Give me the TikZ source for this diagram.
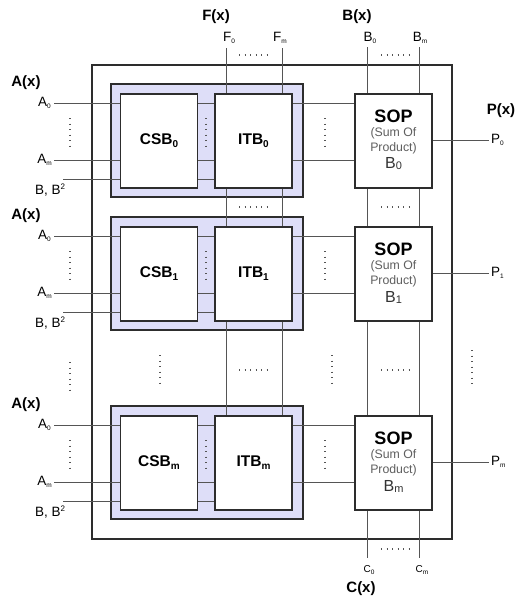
\documentclass[tikz,border=0pt]{standalone}
\usepackage{fontspec}
\setmainfont{Liberation Sans}
\usetikzlibrary{calc}
\definecolor{lav}{RGB}{222,222,248}
\definecolor{frm}{RGB}{45,45,45}
\definecolor{sigc}{RGB}{85,85,85}
\definecolor{gtext}{RGB}{95,95,95}
\pgfdeclarelayer{bgg}
\pgfdeclarelayer{bg}
\pgfsetlayers{bgg,bg,main}
\newcommand{\lsub}[1]{\raisebox{-1.5pt}{\fontsize{6.5}{6.5}\selectfont #1}}
\newcommand{\bsub}[1]{\raisebox{-3pt}{\fontsize{10}{10}\selectfont\bfseries #1}}
\newcommand{\lsup}[1]{\raisebox{5pt}{\fontsize{8}{8}\selectfont #1}}
\begin{document}
\begin{tikzpicture}[x=1pt,y=-1pt,
  blk/.style={draw=frm,line width=1.5pt,fill=white,minimum width=77pt,minimum height=94pt,inner sep=0pt,outer sep=0pt},
  grp/.style={draw=frm,line width=1.5pt,fill=lav,minimum width=192pt,minimum height=113pt,inner sep=0pt,outer sep=0pt},
  sigl/.style={draw=sigc,line width=0.9pt},
  dotline/.style={draw=sigc,line width=1.4pt,dash pattern=on 1.3pt off 4.2pt},
  lbl/.style={font=\fontsize{13.5}{15}\selectfont,inner sep=0pt},
  slbl/.style={font=\fontsize{10}{11}\selectfont,inner sep=0pt},
  bl/.style={font=\fontsize{15}{17}\selectfont\bfseries,inner sep=0pt},
  blkt/.style={font=\fontsize{15.5}{17}\selectfont\bfseries,inner sep=0pt},
]
\useasboundingbox (0,0) rectangle (519,597);

% top and bottom labels
\node[bl] (fx) at (216,17) {F(x)};
\node[bl] (bx) at (357,17) {B(x)};
\node[bl] (px) at (501,111) {P(x)};
\node[bl] (cx) at (361,589) {C(x)};
\node[lbl] (f0l) at (229,38) {F\lsub{0}};
\node[lbl] (fml) at (280,38) {F\lsub{m}};
\node[lbl] (b0l) at (370,38) {B\lsub{0}};
\node[lbl] (bml) at (420,38) {B\lsub{m}};
\node[slbl] (c0l) at (369,570) {C\lsub{0}};
\node[slbl] (cml) at (422,570) {C\lsub{m}};

\coordinate (ftop0) at (226,48);
\coordinate (ftopm) at (282,48);
\coordinate (btop0) at (367,47);
\coordinate (btopm) at (419,47);
\coordinate (bbot0) at (367,558);
\coordinate (bbotm) at (419,558);

\begin{pgfonlayer}{bgg}
  \node[draw=frm,line width=1.3pt,minimum width=360pt,minimum height=474pt,inner sep=0pt,outer sep=0pt] (frame) at (272,302) {};
\end{pgfonlayer}

\foreach \r/\t/\s in {0/94/0,1/227/1,2/416/m}{
  \begin{pgfonlayer}{bgg}
    \node[grp] (grp\r) at (207,{\t+46.5}) {};
  \end{pgfonlayer}
  \node[blk] (csb\r) at (159,{\t+47}) {};
  \node[blkt] at (csb\r) {CSB\bsub{\s}};
  \node[blk] (itb\r) at (253.5,{\t+47}) {};
  \node[blkt] at (itb\r) {ITB\bsub{\s}};
  \node[blk] (sop\r) at (393.5,{\t+47}) {};
  \node[font=\fontsize{18}{20}\selectfont\bfseries,inner sep=0pt] at ($(sop\r.north)+(0,22)$) {SOP};
  \node[font=\fontsize{12.3}{13}\selectfont,text=gtext,inner sep=0pt] at ($(sop\r.north)+(0,39)$) {(Sum Of};
  \node[font=\fontsize{12.3}{13}\selectfont,text=gtext,inner sep=0pt] at ($(sop\r.north)+(0,54)$) {Product)};
  \node[font=\fontsize{16}{18}\selectfont,text=black!80,inner sep=0pt] at ($(sop\r.north)+(0,70)$) {B\raisebox{-1pt}{\fontsize{11}{11}\selectfont \s}};
  % left labels
  \node[bl] (ax\r) at (26,{\t-11}) {A(x)};
  \node[lbl,anchor=east] (a0l\r) at (51,{\t+9}) {A\lsub{0}};
  \node[lbl,anchor=east] (aml\r) at (52,{\t+66}) {A\lsub{m}};
  \node[lbl] (bbl\r) at (50,{\t+96}) {B, B\lsup{2}};
  \coordinate (a0\r) at (54,{\t+9});
  \coordinate (am\r) at (54,{\t+66});
  \coordinate (bb\r) at (63,{\t+85});
  \coordinate (p\r) at (489,{\t+46});
  \node[lbl,anchor=west] (pl\r) at (491,{\t+46}) {P\lsub{\s}};
  \begin{pgfonlayer}{bg}
    \draw[sigl] (a0\r) -- (a0\r -| csb\r.west);
    \draw[sigl] (am\r) -- (am\r -| csb\r.west);
    \draw[sigl] (bb\r) -- (bb\r -| csb\r.west);
    \draw[sigl] (a0\r -| csb\r.east) -- (a0\r -| itb\r.west);
    \draw[sigl] (am\r -| csb\r.east) -- (am\r -| itb\r.west);
    \draw[sigl] (bb\r -| csb\r.east) -- (bb\r -| itb\r.west);
    \draw[sigl] (a0\r -| itb\r.east) -- (a0\r -| sop\r.west);
    \draw[sigl] (am\r -| itb\r.east) -- (am\r -| sop\r.west);
    \draw[sigl] (p\r -| sop\r.east) -- (p\r);
    \draw[dotline] (70,{\t+24}) -- (70,{\t+52});
    \draw[dotline] (206,{\t+24}) -- (206,{\t+52});
    \draw[dotline] (325,{\t+24}) -- (325,{\t+52});
  \end{pgfonlayer}
}

\begin{pgfonlayer}{bg}
  \draw[sigl] (ftop0) -- (ftop0 |- itb2.north);
  \draw[sigl] (ftopm) -- (ftopm |- itb2.north);
  \draw[sigl] (btop0) -- (bbot0);
  \draw[sigl] (btopm) -- (bbotm);
  % horizontal dot rows
  \foreach \yy in {55,207,370}{
    \draw[dotline] (239,\yy) -- (267,\yy);
    \draw[dotline] (381,\yy) -- (409,\yy);
  }
  \draw[dotline] (381,549) -- (409,549);
  % middle vertical dots
  \draw[dotline] (70,362) -- (70,390);
  \draw[dotline] (160,355) -- (160,383);
  \draw[dotline] (332,355) -- (332,383);
  \draw[dotline] (472,350) -- (472,384);
\end{pgfonlayer}
\end{tikzpicture}
\end{document}
